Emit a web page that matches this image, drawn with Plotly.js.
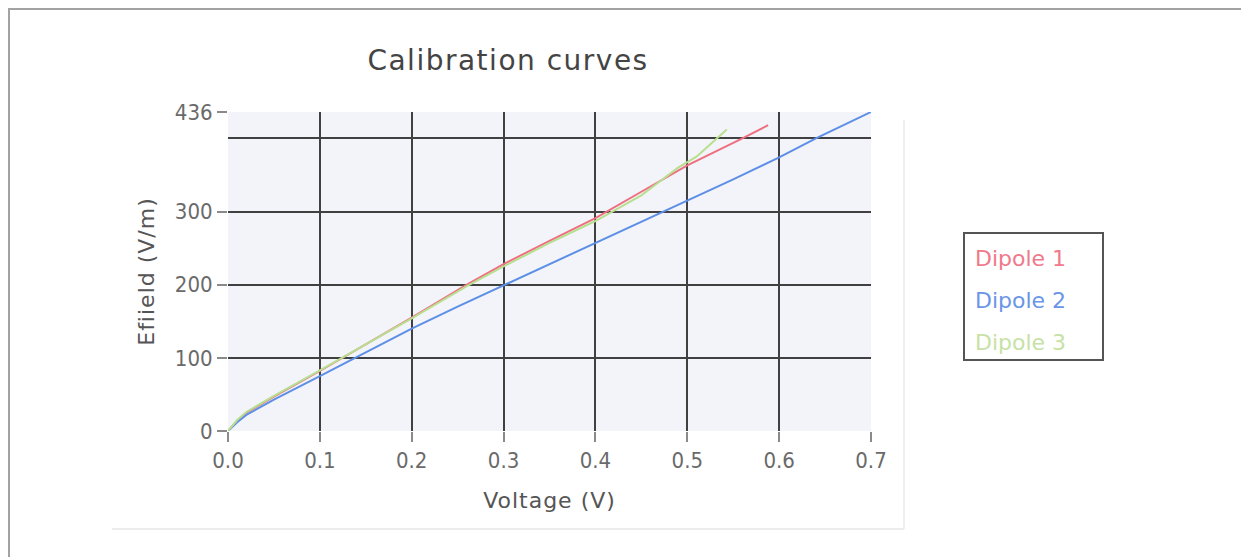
<!DOCTYPE html>
<html>
<head>
<meta charset="utf-8">
<script src="https://cdn.plot.ly/plotly-3.0.1.min.js"></script>
<style>
  html, body { margin:0; padding:0; background:#ffffff; }
  #wrap { position:relative; width:1241px; height:557px; overflow:hidden; }
  #chart { position:absolute; left:0; top:0; width:1241px; height:557px; }
  #frame { position:absolute; left:8px; top:8px; width:1240px; height:560px;
           border-top:2px solid #a3a3a3; border-left:2px solid #a3a3a3; pointer-events:none; }
  #panelB { position:absolute; left:112px; top:528px; width:792px; height:0;
            border-top:2px solid #ececec; pointer-events:none; }
  #panelR { position:absolute; left:903px; top:120px; width:0; height:409px;
            border-left:2px solid #efefef; pointer-events:none; }
  .gtitle { letter-spacing:1.5px; }
  .xtitle, .ytitle { letter-spacing:1px; }
  .legendlines, .legendsymbols, .legendpoints { display:none; }
  .legendtext { transform: translate(-30px, 3px); }
</style>
</head>
<body>
<div id="wrap">
  <div id="chart"></div>
  <div id="frame"></div>
  <div id="panelB"></div>
  <div id="panelR"></div>
</div>
<script>
// ---- data ----
const seriesNames = ["Dipole 1", "Dipole 2", "Dipole 3"];

const dipole1Voltage = [0, 0.01, 0.02, 0.05, 0.1, 0.15, 0.2, 0.26, 0.3, 0.35, 0.4, 0.45, 0.5, 0.56, 0.588];
const dipole1Efield  = [0, 14, 25, 47, 82, 118, 155, 200, 228, 260, 291, 327, 363, 400, 418];

const dipole2Voltage = [0, 0.01, 0.02, 0.05, 0.1, 0.15, 0.2, 0.25, 0.3, 0.35, 0.4, 0.45, 0.5, 0.55, 0.6, 0.64, 0.7];
const dipole2Efield  = [0, 12, 22, 43, 75, 108, 140, 170, 199, 228, 256, 286, 315, 344, 374, 400, 436];

const dipole3Voltage = [0, 0.01, 0.02, 0.05, 0.1, 0.15, 0.2, 0.26, 0.3, 0.35, 0.4, 0.43, 0.45, 0.47, 0.49, 0.51, 0.53, 0.543];
const dipole3Efield  = [0, 15, 26, 48, 83, 118, 154, 198, 225, 257, 287, 308, 322, 341, 360, 375, 397, 412];

const xTickVals = [0, 0.1, 0.2, 0.3, 0.4, 0.5, 0.6, 0.7];
const xTickText = ["0.0", "0.1", "0.2", "0.3", "0.4", "0.5", "0.6", "0.7"];
const yTickVals = [0, 100, 200, 300, 436];
const yTickText = ["0", "100", "200", "300", "436"];
const xGridVals = [0.1, 0.2, 0.3, 0.4, 0.5, 0.6];
const yGridVals = [100, 200, 300, 400];

// ---- styles ----
const lineColors = ["#ee6f80", "#5d8fe6", "#b8df90"];
const textColors = ["#f0798b", "#6a95e8", "#c6e2a4"];
const FONT = "DejaVu Sans, Verdana, sans-serif";
const TICKFONT = "DejaVu Sans Condensed, DejaVu Sans, sans-serif";

const voltages = [dipole1Voltage, dipole2Voltage, dipole3Voltage];
const efields  = [dipole1Efield, dipole2Efield, dipole3Efield];

const traces = seriesNames.map((n, i) => ({
  type: "scatter",
  mode: "lines",
  x: voltages[i],
  y: efields[i],
  name: '<span style="color:' + textColors[i] + '">' + n + '</span>',
  legendgroup: "g" + i,
  line: { color: lineColors[i], width: 2 }
}));

const layout = {
  width: 1241,
  height: 557,
  margin: { l: 228, r: 370, t: 112, b: 126 },
  paper_bgcolor: "rgba(0,0,0,0)",
  plot_bgcolor: "#f2f4f9",
  font: { family: FONT, color: "#666666", size: 20 },
  title: {
    text: "Calibration curves",
    font: { family: FONT, size: 28, color: "#444444" },
    xref: "container", yref: "container",
    x: 0.4094, xanchor: "center",
    y: 0.892, yanchor: "middle"
  },
  xaxis: {
    range: [0, 0.7],
    tickmode: "array",
    tickvals: xTickVals,
    ticktext: xTickText,
    ticks: "outside",
    ticklen: 10,
    tickwidth: 2,
    tickcolor: "#8a8a8a",
    tickfont: { family: TICKFONT, size: 22, color: "#6a6a6a" },
    showgrid: false,
    zeroline: false,
    showline: false,
    minor: { tickmode: "array", tickvals: xGridVals, showgrid: true, gridcolor: "#404040", gridwidth: 2, ticks: "" },
    title: { text: "Voltage (V)", font: { family: FONT, size: 22, color: "#555555" }, standoff: 20 }
  },
  yaxis: {
    range: [0, 436],
    tickmode: "array",
    tickvals: yTickVals,
    ticktext: yTickText,
    ticks: "outside",
    ticklen: 10,
    tickwidth: 2,
    tickcolor: "#8a8a8a",
    tickfont: { family: TICKFONT, size: 22, color: "#6a6a6a" },
    showgrid: false,
    zeroline: false,
    showline: false,
    minor: { tickmode: "array", tickvals: yGridVals, showgrid: true, gridcolor: "#404040", gridwidth: 2, ticks: "" },
    title: { text: "Efiield (V/m)", font: { family: FONT, size: 22, color: "#555555" }, standoff: 14 }
  },
  showlegend: true,
  legend: {
    x: 1.143, xanchor: "left",
    y: 0.624, yanchor: "top",
    xref: "paper", yref: "paper",
    bgcolor: "#ffffff",
    bordercolor: "#555555",
    borderwidth: 2,
    font: { family: FONT, size: 22 },
    itemwidth: 30,
    entrywidth: 88,
    entrywidthmode: "pixels",
    tracegroupgap: 10,
    traceorder: "grouped"
  }
};

Plotly.newPlot("chart", traces, layout, { displayModeBar: false, staticPlot: true });
</script>
</body>
</html>
